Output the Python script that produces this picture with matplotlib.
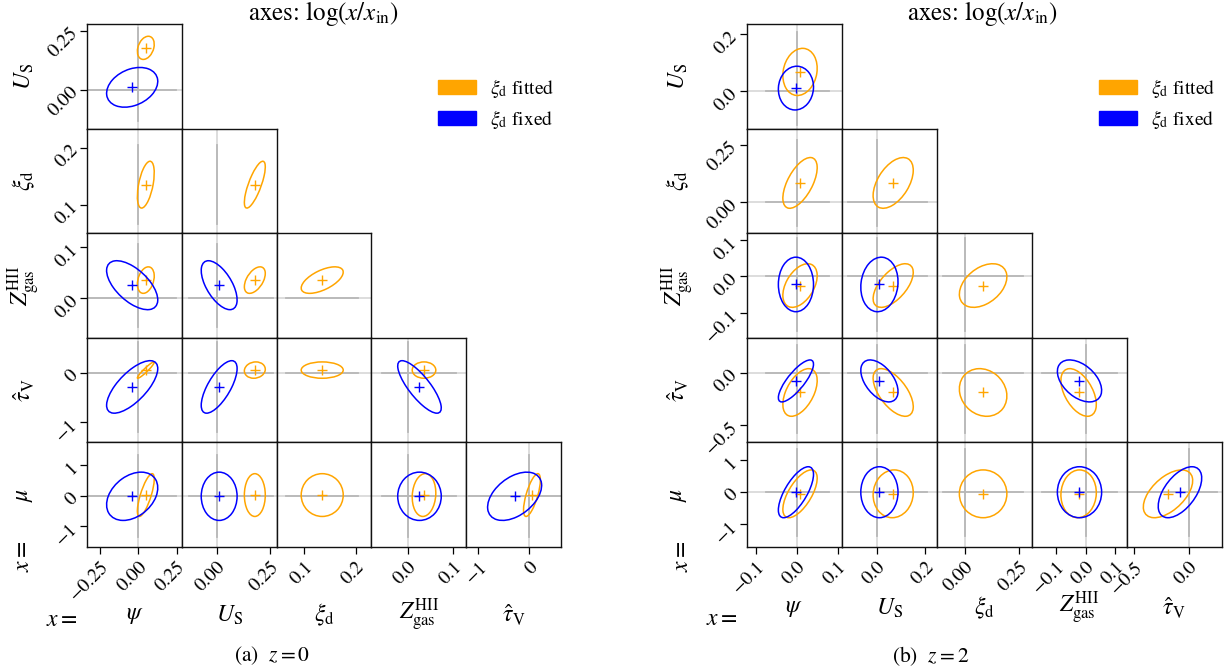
import numpy as np
import matplotlib
matplotlib.use("Agg")
import matplotlib.pyplot as plt
from matplotlib.patches import Ellipse, Patch

plt.rcParams.update({
    "font.family": "STIXGeneral",
    "mathtext.fontset": "stix",
    "axes.unicode_minus": True,
})

nan = np.nan

# ---------------- data ----------------
param_labels = [r"$\psi$", r"$U_{\rm S}$", r"$\xi_{\rm d}$",
                r"$Z_{\rm gas}^{\rm HII}$", r"$\hat{\tau}_{\rm V}$", r"$\mu$"]
case_labels = [r"$\xi_{\rm d}$ fitted", r"$\xi_{\rm d}$ fixed"]
case_colors = ["#FFA500", "#0000FF"]

# order of params: psi, U_S, xi_d, Z, tau_V, mu
# correlation order: (psi,Us) | (psi,xi),(Us,xi) | (psi,Z),(Us,Z),(xi,Z) |
#   (psi,tau),(Us,tau),(xi,tau),(Z,tau) | (psi,mu),(Us,mu),(xi,mu),(Z,mu),(tau,mu)

# z = 0
z0_fit_mean = [0.048, 0.177, 0.135, 0.036, 0.05, 0.02]
z0_fit_sig = [0.055, 0.049, 0.041, 0.026, 0.165, 0.70]
z0_fit_corr = [0.3, 0.5, 0.76, 0.3, 0.5, 0.6, 0.95, 0.1, 0.0, 0.0,
               0.75, 0.0, 0.0, 0.1, 0.7]
z0_fix_mean = [-0.041, 0.01, nan, 0.026, -0.29, -0.02]
z0_fix_sig = [0.167, 0.084, nan, 0.048, 0.53, 0.79]
z0_fix_corr = [0.3, nan, nan, -0.6, -0.6, nan, 0.7, 0.7, nan, -0.8,
               0.35, 0.0, nan, 0.0, 0.45]
z0_xlim = [(-0.336, 0.283), (-0.165, 0.279), (0.046, 0.231), (-0.080, 0.129), (-1.24, 0.62)]
z0_ylim = [(-0.165, 0.277), (0.05, 0.233), (-0.077, 0.128), (-1.406, 0.704), (-1.67, 1.75)]
z0_xticks = [[-0.25, 0.0, 0.25], [0.0, 0.25], [0.1, 0.2], [0.0, 0.1], [-1, 0]]
z0_xticklabels = [["\u22120.25", "0.00", "0.25"], ["0.00", "0.25"], ["0.1", "0.2"],
                  ["0.0", "0.1"], ["\u22121", "0"]]
z0_yticks = [[0.0, 0.25], [0.1, 0.2], [0.0, 0.1], [-1, 0], [-1, 0, 1]]
z0_yticklabels = [["0.00", "0.25"], ["0.1", "0.2"], ["0.0", "0.1"],
                  ["\u22121", "0"], ["\u22121", "0", "1"]]

# z = 2
z2_fit_mean = [0.008, 0.068, 0.084, -0.025, -0.19, -0.05]
z2_fit_sig = [0.042, 0.083, 0.11, 0.06, 0.227, 0.75]
z2_fit_corr = [0.15, 0.6, 0.5, 0.45, 0.6, 0.4, 0.5, -0.6, -0.15, -0.5,
               0.65, 0.05, 0.0, 0.05, 0.55]
z2_fix_mean = [-0.002, 0.011, nan, -0.022, -0.08, 0.0]
z2_fix_sig = [0.043, 0.077, nan, 0.075, 0.20, 0.80]
z2_fix_corr = [0.05, nan, nan, 0.0, 0.1, nan, 0.8, -0.5, nan, -0.45,
               0.7, 0.0, nan, 0.0, 0.55]
z2_xlim = [(-0.1225, 0.110), (-0.145, 0.248), (-0.131, 0.309), (-0.184, 0.138), (-0.570, 0.304)]
z2_ylim = [(-0.132, 0.236), (-0.134, 0.319), (-0.1685, 0.119), (-0.664, 0.332), (-1.71, 1.57)]
z2_xticks = [[-0.1, 0.0, 0.1], [0.0, 0.2], [0.0, 0.25], [-0.1, 0.0, 0.1], [-0.5, 0.0]]
z2_xticklabels = [["\u22120.1", "0.0", "0.1"], ["0.0", "0.2"], ["0.00", "0.25"],
                  ["\u22120.1", "0.0", "0.1"], ["\u22120.5", "0.0"]]
z2_yticks = [[0.0, 0.2], [0.0, 0.25], [-0.1, 0.0, 0.1], [-0.5, 0.0], [-1, 0, 1]]
z2_yticklabels = [["0.0", "0.2"], ["0.00", "0.25"], ["\u22120.1", "0.0", "0.1"],
                  ["\u22120.5", "0.0"], ["\u22121", "0", "1"]]

panels = [
    dict(fit=(z0_fit_mean, z0_fit_sig, z0_fit_corr), fix=(z0_fix_mean, z0_fix_sig, z0_fix_corr),
         xlim=z0_xlim, ylim=z0_ylim, xt=z0_xticks, xtl=z0_xticklabels,
         yt=z0_yticks, ytl=z0_yticklabels, caption=r"(a)  $z = 0$"),
    dict(fit=(z2_fit_mean, z2_fit_sig, z2_fit_corr), fix=(z2_fix_mean, z2_fix_sig, z2_fix_corr),
         xlim=z2_xlim, ylim=z2_ylim, xt=z2_xticks, xtl=z2_xticklabels,
         yt=z2_yticks, ytl=z2_yticklabels, caption=r"(b)  $z = 2$"),
]

# ---------------- layout (pixels) ----------------
FW, FH = 1228, 672
grid_x0 = [87.0, 746.7]
grid_w = [94.8, 95.0]
grid_y0 = 24.2
grid_h = 104.5
row_label_x = [24, 678]
xeq_rot_x = [23, 682]
col_label_y = [615, 608]
xeq_pos = [(62, 620), (722, 619)]
title_x = [323, 982]
caption_x = [272, 931]
legend_xy = [(438, 77), (1099, 77)]

fig = plt.figure(figsize=(FW / 100, FH / 100), dpi=100)


def ell_params(sx, sy, r):
    cov = np.array([[sx * sx, r * sx * sy], [r * sx * sy, sy * sy]])
    vals, vecs = np.linalg.eigh(cov)
    w = 2 * np.sqrt(max(vals[1], 0))
    h = 2 * np.sqrt(max(vals[0], 0))
    ang = np.degrees(np.arctan2(vecs[1, 1], vecs[0, 1]))
    return w, h, ang


def pair_index(j, i):
    return (i - 1) * i // 2 + j


SPAN = 1.7
LBL = 17

for p, P in enumerate(panels):
    x0, W = grid_x0[p], grid_w[p]
    cases = [P["fit"], P["fix"]]
    for i in range(1, 6):          # row param
        r = i - 1
        for j in range(0, i):      # col param
            c = j
            left = (x0 + c * W) / FW
            bottom = 1 - (grid_y0 + (r + 1) * grid_h) / FH
            ax = fig.add_axes([left, bottom, W / FW, grid_h / FH])
            ax.set_xlim(*P["xlim"][c])
            ax.set_ylim(*P["ylim"][r])
            ax.axhline(0, color="#dadada", lw=1.3, zorder=0.5)
            ax.axvline(0, color="#dadada", lw=1.3, zorder=0.5)
            xs, ys = [], []
            for (m, s, cr) in cases:
                if not np.isnan(m[j]):
                    xs += [m[j] - SPAN * s[j], m[j] + SPAN * s[j]]
                if not np.isnan(m[i]):
                    ys += [m[i] - SPAN * s[i], m[i] + SPAN * s[i]]
            ax.plot([min(xs), max(xs)], [0, 0], color="#b8b8b8", lw=1.3, zorder=0.6)
            ax.plot([0, 0], [min(ys), max(ys)], color="#b8b8b8", lw=1.3, zorder=0.6)
            for k, (m, s, cr) in enumerate(cases):
                rho = cr[pair_index(j, i)]
                if np.isnan(m[j]) or np.isnan(m[i]) or np.isnan(rho):
                    continue
                w, h, ang = ell_params(s[j], s[i], rho)
                ax.add_patch(Ellipse((m[j], m[i]), w, h, angle=ang, fill=False,
                                     ec=case_colors[k], lw=1.1, zorder=2 + k))
                ax.plot(m[j], m[i], "+", color=case_colors[k], ms=7, mew=1.0, zorder=3 + k)
            for sp in ax.spines.values():
                sp.set_linewidth(1.0)
                sp.set_color("#111111")
            ax.tick_params(direction="out", length=5, width=0.9, labelsize=14)
            if c == 0:
                ax.set_yticks(P["yt"][r])
                ax.set_yticklabels(P["ytl"][r], rotation=45, ha="right", va="center",
                                   rotation_mode="anchor")
            else:
                ax.set_yticks([])
            if r == 4:
                ax.set_xticks(P["xt"][c])
                ax.set_xticklabels(P["xtl"][c], rotation=45, ha="right", va="top",
                                   rotation_mode="anchor")
            else:
                ax.set_xticks([])
        yc = grid_y0 + (i - 1 + 0.5) * grid_h
        fig.text(row_label_x[p] / FW, 1 - yc / FH, param_labels[i], rotation=90,
                 ha="center", va="center", fontsize=LBL)
    for c in range(5):
        xc = x0 + (c + 0.5) * W
        fig.text(xc / FW, 1 - col_label_y[p] / FH, param_labels[c],
                 ha="center", va="center", fontsize=LBL)
    fig.text(xeq_rot_x[p] / FW, 1 - 556 / FH, r"$x =$", rotation=90,
             ha="center", va="center", fontsize=LBL)
    fig.text(xeq_pos[p][0] / FW, 1 - xeq_pos[p][1] / FH, r"$x =$",
             ha="center", va="center", fontsize=LBL)
    fig.text(title_x[p] / FW, 1 - 14 / FH, r"axes: $\log(x/x_{\rm in})$",
             ha="center", va="center", fontsize=18)
    fig.text(caption_x[p] / FW, 1 - 656 / FH, P["caption"],
             ha="center", va="center", fontsize=15.5)
    handles = [Patch(facecolor=case_colors[k], edgecolor=case_colors[k], label=case_labels[k])
               for k in range(2)]
    fig.legend(handles=handles, loc="upper left",
               bbox_to_anchor=(legend_xy[p][0] / FW, 1 - legend_xy[p][1] / FH),
               frameon=False, fontsize=14, handlelength=1.95, handleheight=0.75,
               handletextpad=0.7, labelspacing=0.4, borderpad=0, borderaxespad=0)

fig.savefig("out.png", dpi=100)
